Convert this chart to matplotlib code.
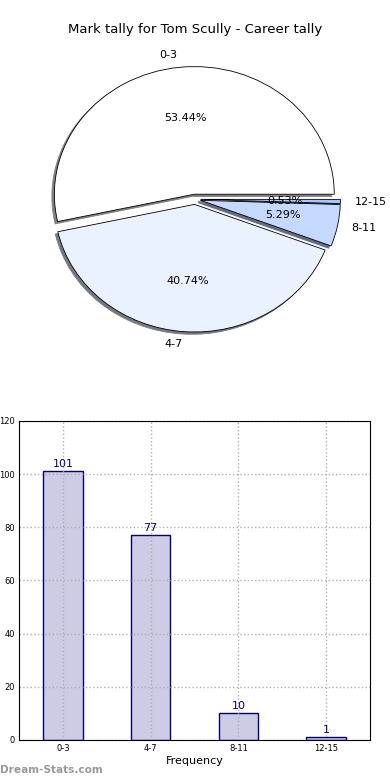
import matplotlib
matplotlib.use("Agg")
import matplotlib.pyplot as plt

categories = ["0-3", "4-7", "8-11", "12-15"]
counts = [101, 77, 10, 1]
pie_colors = ["#FFFFFF", "#EAF1FF", "#C5D9FF", "#A9C6FF"]
title = "Mark tally for Tom Scully - Career tally"

fig = plt.figure(figsize=(3.9, 7.8), dpi=100)

ax1 = fig.add_axes([0.0513, 0.540, 0.897, 0.409])
wedges, texts, autotexts = ax1.pie(
    counts, labels=categories, colors=pie_colors, explode=[0.04] * 4,
    autopct="%.2f%%",
    shadow={"ox": -0.013, "oy": -0.013, "shade": 0.5, "alpha": 1},
    startangle=0,
    wedgeprops=dict(edgecolor="black", linewidth=0.6),
    textprops=dict(fontsize=8))
ax1.set_aspect("auto")
ax1.set_xlim(-1.25, 1.25)
ax1.set_ylim(-1.25, 1.25)
fig.text(0.5, 0.962, title, ha="center", va="center", fontsize=9.5)

ax2 = fig.add_axes([0.0487, 0.0513, 0.9, 0.409])
x = list(range(len(categories)))
bars = ax2.bar(x, counts, width=0.45, facecolor=(0, 0, 0.5, 0.2),
               edgecolor="navy", linewidth=1, zorder=1)
for xi, v in zip(x, counts):
    ax2.text(xi, v + 1, str(v), ha="center", va="bottom", color="navy", fontsize=8)
ax2.set_xlim(-0.5, 3.5)
ax2.set_ylim(0, 120)
ax2.set_xticks(x)
ax2.set_xticklabels(categories)
ax2.set_yticks(range(0, 121, 20))
ax2.tick_params(labelsize=6, length=0, pad=3)
ax2.grid(True, linestyle=":", color="#B0B0B0", linewidth=1, zorder=3)
ax2.set_axisbelow(False)
for sp in ax2.spines.values():
    sp.set_zorder(5)
ax2.set_xlabel("Frequency", fontsize=8, labelpad=2)

fig.text(0.0, 0.013, "Dream-Stats.com", fontsize=7.6, color="#999999",
         fontweight="bold", ha="left", va="center")

fig.savefig("out.png", dpi=100)
